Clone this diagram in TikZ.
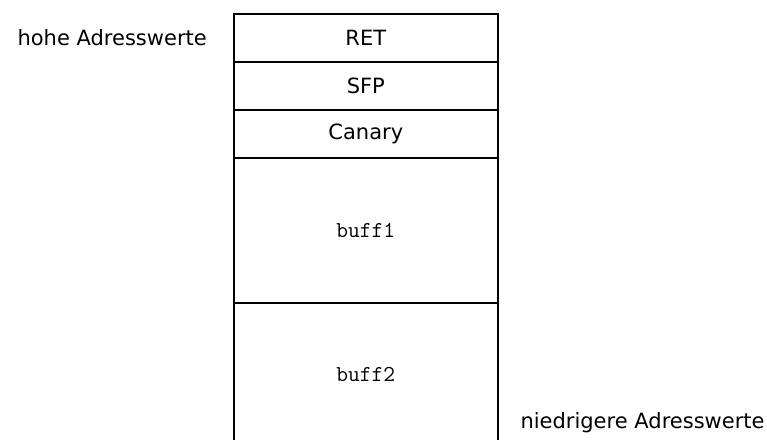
\documentclass[tikz,border=0pt]{standalone}
\usepackage{fontspec}
\setmainfont{DejaVu Sans}
\setmonofont{Latin Modern Mono}
\usetikzlibrary{positioning}

\begin{document}
\begin{tikzpicture}[
  x=1pt, y=1pt,
  font=\fontsize{21}{25}\selectfont,
  cell/.style={
    draw=black,
    line width=2pt,
    minimum width=263.7pt,
    minimum height=48pt,
    inner sep=0pt,
    outer sep=0pt
  },
  bigcell/.style={cell, minimum height=144.5pt, font=\fontsize{22.8}{26}\selectfont\ttfamily},
  side/.style={anchor=base west, text=black}
]

\useasboundingbox (0,0) rectangle (767,439);
\clip (0,0) rectangle (767,439);

% stack frame, top to bottom
\node[cell] (ret) at (365.8,401) {RET};
\node[cell, below=0pt of ret] (sfp) {SFP};
\node[cell, below=0pt of sfp] (canary) {Canary};
\node[bigcell, below=0pt of canary] (buff1) {buff1};
\node[bigcell, below=0pt of buff1] (buff2) {buff2};

\node[side] (high) at (14,393) {hohe Adresswerte};
\node[side] (low) at (517,11) {niedrigere Adresswerte};

\end{tikzpicture}
\end{document}
